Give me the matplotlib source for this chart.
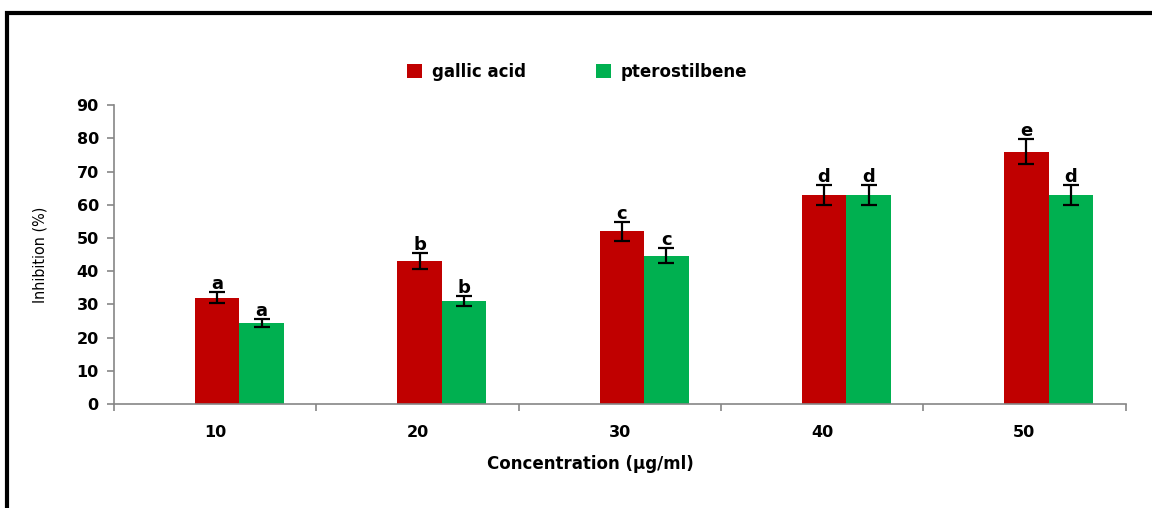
import matplotlib.pyplot as plt
import matplotlib.patches as mpatches
import numpy as np

# data
concentrations = ["10", "20", "30", "40", "50"]
gallic_acid = [32, 43, 52, 63, 76]
gallic_err = [1.7, 2.4, 2.8, 3.0, 3.8]
pterostilbene = [24.5, 31, 44.7, 63, 63]
ptero_err = [1.2, 1.5, 2.2, 3.0, 3.0]
gallic_letters = ["a", "b", "c", "d", "e"]
ptero_letters = ["a", "b", "c", "d", "d"]

RED = "#C00000"
GREEN = "#00B050"
GREY = "#868686"

fig = plt.figure(figsize=(11.52, 5.08), dpi=100)
ax = fig.add_axes([0.099, 0.2047, 0.878, 0.5883])

x = np.arange(len(concentrations))
width = 0.22
x_red = x + 0.01
x_green = x + 0.23

ax.bar(x_red, gallic_acid, width, color=RED, label="gallic acid", zorder=2)
ax.bar(x_green, pterostilbene, width, color=GREEN, label="pterostilbene", zorder=2)
ax.errorbar(x_red, gallic_acid, yerr=gallic_err, fmt="none", ecolor="black",
            elinewidth=1.6, capsize=5.5, capthick=1.6, zorder=3)
ax.errorbar(x_green, pterostilbene, yerr=ptero_err, fmt="none", ecolor="black",
            elinewidth=1.6, capsize=5.5, capthick=1.6, zorder=3)

# significance letters above the error bars
for xi, v, e, t in zip(x_red, gallic_acid, gallic_err, gallic_letters):
    ax.text(xi, v + e - 0.3, t, ha="center", va="bottom", fontsize=13,
            fontweight="heavy", zorder=4)
for xi, v, e, t in zip(x_green, pterostilbene, ptero_err, ptero_letters):
    ax.text(xi, v + e - 0.3, t, ha="center", va="bottom", fontsize=13,
            fontweight="heavy", zorder=4)

ax.set_xlim(-0.5, len(concentrations) - 0.5)
ax.set_ylim(0, 90)
ax.set_yticks(np.arange(0, 91, 10))
ax.set_xticks(np.arange(-0.5, len(concentrations), 1.0))
ax.set_xticklabels([])
ax.set_xticks(x, minor=True)
ax.set_xticklabels(concentrations, minor=True)
ax.tick_params(axis="x", which="minor", length=0, pad=15, labelsize=11.5)
ax.tick_params(axis="x", which="major", length=5, color=GREY, width=1.2)
ax.tick_params(axis="y", length=5, color=GREY, width=1.2, pad=6, labelsize=11.5)
for lab in ax.get_xticklabels(minor=True) + ax.get_yticklabels():
    lab.set_fontweight("heavy")

for side in ["top", "right"]:
    ax.spines[side].set_visible(False)
for side in ["left", "bottom"]:
    ax.spines[side].set_color(GREY)
    ax.spines[side].set_linewidth(1.2)

ax.set_ylabel("Inhibition (%)", fontsize=11.5, fontstretch="condensed")
ax.yaxis.set_label_coords(-0.066, 0.5)
ax.set_xlabel("Concentration (µg/ml)", fontsize=12, fontweight="heavy")
ax.xaxis.set_label_coords(0.471, -0.17)

ax.legend(loc="center", bbox_to_anchor=(0.501, 0.858), bbox_transform=fig.transFigure,
          ncol=2, frameon=False, handlelength=0.9, handleheight=0.9,
          columnspacing=4.2, handletextpad=0.6,
          prop={"weight": "heavy", "size": 12})

# black frame around the figure (cut off on the right and bottom)
frame = mpatches.Rectangle((0.006, -0.2), 1.2, 0.2 + 0.975, transform=fig.transFigure,
                           fill=False, edgecolor="black", linewidth=3, clip_on=False)
fig.patches.append(frame)

fig.savefig("out.png", dpi=100)
